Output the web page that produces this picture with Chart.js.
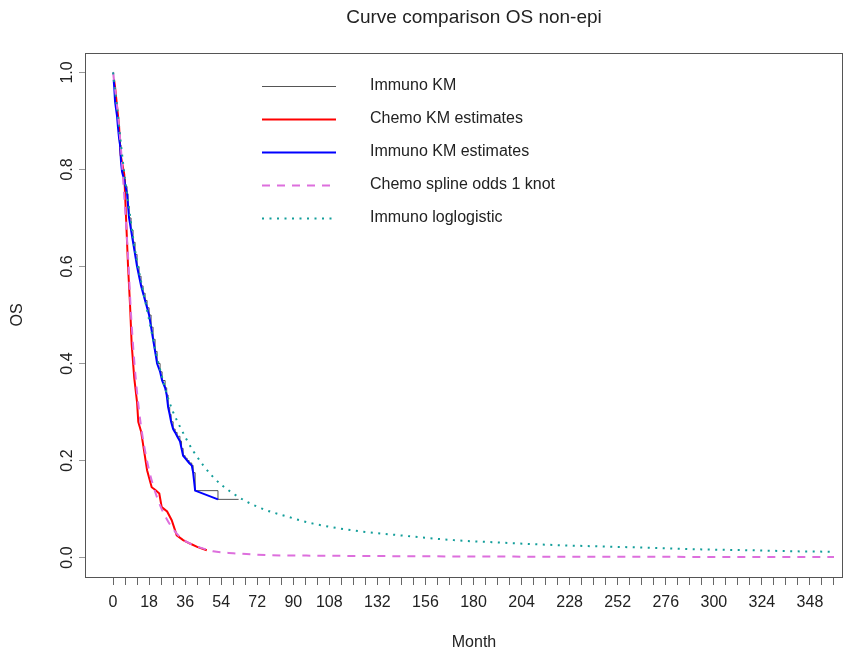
<!DOCTYPE html>
<html>
<head>
<meta charset="utf-8">
<script src="https://cdn.jsdelivr.net/npm/chart.js@4/dist/chart.umd.min.js"></script>
<style>
    html, body { margin: 0; padding: 0; background: #fff; }
    #wrap { width: 854px; height: 655px; }
</style>
</head>
<body>
<div id="wrap"><canvas id="osChart" width="854" height="655"></canvas></div>
<script>
/* ---------- data ---------- */

const chartTitle = 'Curve comparison OS non-epi';
const xTitle = 'Month';
const yTitle = 'OS';

const xTickMarks = [0, 6, 12, 18, 24, 30, 36, 42, 48, 54, 60, 66, 72, 78, 84, 90, 96, 102, 108, 114, 120,
    126, 132, 138, 144, 150, 156, 162, 168, 174, 180, 186, 192, 198, 204, 210, 216, 222, 228, 234, 240,
    246, 252, 258, 264, 270, 276, 282, 288, 294, 300, 306, 312, 318, 324, 330, 336, 342, 348, 354, 360];
const xTickLabels = [0, 18, 36, 54, 72, 90, 108, 132, 156, 180, 204, 228, 252, 276, 300, 324, 348];
const yTickValues = [0, 0.2, 0.4, 0.6, 0.8, 1.0];

const seriesLabels = ['Immuno KM', 'Chemo KM estimates', 'Immuno KM estimates',
    'Chemo spline odds 1 knot', 'Immuno loglogistic'];

// Immuno Kaplan-Meier (step)
const immunoKmMonths = [0, 0.3, 0.6, 1, 1.5, 2, 2.5, 3, 3.5, 4, 4.5, 5.5, 6.2, 7, 7.5, 8, 9, 10, 11, 12,
    13, 14, 15, 16, 17, 18, 19, 20, 21, 22, 23.5, 24.5, 26, 26.8, 27.5, 28.3, 29, 30, 31, 32, 33.4, 34.2,
    35, 36, 37, 38, 39.3, 40, 41, 52.4, 62.7];
const immunoKmSurv = [1.0, 0.985, 0.97, 0.94, 0.925, 0.91, 0.885, 0.865, 0.85, 0.815, 0.795, 0.78, 0.765,
    0.75, 0.725, 0.70, 0.675, 0.65, 0.625, 0.60, 0.58, 0.56, 0.545, 0.53, 0.515, 0.50, 0.475, 0.45, 0.425,
    0.40, 0.383, 0.365, 0.35, 0.335, 0.31, 0.295, 0.28, 0.265, 0.258, 0.25, 0.24, 0.225, 0.21, 0.205,
    0.20, 0.195, 0.19, 0.175, 0.138, 0.12, 0.12];

// Immuno KM estimates (joined points)
const immunoEstMonths = [0.3, 0.6, 1, 1.5, 2, 2.5, 3, 3.5, 4, 4.5, 5.5, 6.2, 7, 7.5, 8, 9, 10, 11, 12,
    13, 14, 15, 16, 17, 18, 19, 20, 21, 22, 23.5, 24.5, 26, 26.8, 27.5, 28.3, 29, 30, 31, 32, 33.4, 34.2,
    35, 36, 37, 38, 39.3, 40, 41, 52.4];
const immunoEstSurv = [0.985, 0.97, 0.94, 0.925, 0.91, 0.885, 0.865, 0.85, 0.815, 0.795, 0.78, 0.765,
    0.75, 0.725, 0.70, 0.675, 0.65, 0.625, 0.60, 0.58, 0.56, 0.545, 0.53, 0.515, 0.50, 0.475, 0.45, 0.425,
    0.40, 0.383, 0.365, 0.35, 0.335, 0.31, 0.295, 0.28, 0.265, 0.258, 0.25, 0.24, 0.225, 0.21, 0.205,
    0.20, 0.195, 0.19, 0.175, 0.138, 0.12];

// Chemo KM estimates
const chemoEstMonths = [0.5, 1, 2, 3, 3.8, 5.6, 6.8, 7.5, 8.5, 9.3, 10.6, 12, 12.6, 14, 15.5, 17, 19.3,
    21, 23.1, 24.3, 27, 29.3, 31.8, 35, 38.4, 42, 46.8];
const chemoEstSurv = [0.985, 0.97, 0.93, 0.89, 0.83, 0.79, 0.67, 0.60, 0.52, 0.44, 0.37, 0.32, 0.28,
    0.26, 0.22, 0.18, 0.145, 0.14, 0.132, 0.104, 0.095, 0.077, 0.046, 0.036, 0.029, 0.022, 0.015];

// Chemo spline odds 1 knot
const chemoSplineMonths = [0, 2, 4, 6, 7.5, 9, 10.5, 12, 14, 16, 18, 20, 22, 24.3, 27, 29.3, 33.5, 38,
    44, 50, 60, 78, 100, 140, 200, 280, 360];
const chemoSplineSurv = [1.0, 0.93, 0.84, 0.72, 0.62, 0.50, 0.41, 0.34, 0.27, 0.22, 0.18, 0.149, 0.124,
    0.10, 0.078, 0.063, 0.042, 0.030, 0.020, 0.013, 0.009, 0.005, 0.004, 0.003, 0.002, 0.0015, 0.001];

// Immuno loglogistic
const immunoLLMonths = [0, 2, 4, 6, 8, 10, 12, 15, 18, 21, 24, 27, 30, 33.4, 40, 50, 60, 72.5, 87.5,
    100, 120, 143, 170, 193, 220, 243, 270, 293, 320, 340, 360];
const immunoLLSurv = [1.0, 0.93, 0.85, 0.78, 0.72, 0.66, 0.61, 0.55, 0.49, 0.43, 0.38, 0.335, 0.30,
    0.27, 0.22, 0.166, 0.132, 0.104, 0.084, 0.07, 0.056, 0.046, 0.036, 0.031, 0.026, 0.023, 0.02,
    0.017, 0.015, 0.013, 0.012];

/* ---------- helpers ---------- */

function toPoints(xs, ys) {
    return xs.map((x, i) => ({ x: x, y: ys[i] }));
}

const FONT = "'Liberation Sans', Arial, Helvetica, sans-serif";
const TEXT = '#222';

/* ---------- plugins ---------- */

// box round the plot region, R style
const boxPlugin = {
    id: 'box',
    beforeDatasetsDraw(chart) {
        const a = chart.chartArea;
        const ctx = chart.ctx;
        ctx.save();
        ctx.strokeStyle = '#555';
        ctx.lineWidth = 1;
        ctx.strokeRect(Math.round(a.left) + 0.5, Math.round(a.top) + 0.5,
            Math.round(a.right - a.left), Math.round(a.bottom - a.top));
        ctx.restore();
    }
};

// main title and x label
const textPlugin = {
    id: 'texts',
    afterDraw(chart) {
        const ctx = chart.ctx;
        ctx.save();
        ctx.fillStyle = TEXT;
        ctx.textAlign = 'center';
        ctx.textBaseline = 'middle';
        ctx.font = '19px ' + FONT;
        ctx.fillText(chartTitle, 474, 18);
        ctx.font = '16px ' + FONT;
        ctx.fillText(xTitle, 474, 643);
        ctx.restore();
    }
};

// legend without a box, like base R legend(bty = "n")
const legendPlugin = {
    id: 'rLegend',
    afterDraw(chart) {
        const ctx = chart.ctx;
        ctx.save();
        chart.data.datasets.forEach((ds, i) => {
            const y = 86 + i * 33;
            ctx.beginPath();
            ctx.strokeStyle = ds.borderColor;
            ctx.lineWidth = ds.borderWidth;
            ctx.setLineDash(ds.borderDash || []);
            ctx.moveTo(262, y + 0.5);
            ctx.lineTo(336, y + 0.5);
            ctx.stroke();
            ctx.setLineDash([]);
            ctx.fillStyle = TEXT;
            ctx.font = '16px ' + FONT;
            ctx.textAlign = 'left';
            ctx.textBaseline = 'middle';
            ctx.fillText(ds.label, 370, y);
        });
        ctx.restore();
    }
};

/* ---------- chart ---------- */

const ctx = document.getElementById('osChart');

new Chart(ctx, {
    type: 'line',
    data: {
        datasets: [
            {
                label: seriesLabels[0],
                data: toPoints(immunoKmMonths, immunoKmSurv),
                borderColor: '#555',
                borderWidth: 1,
                stepped: 'before',
                order: 5
            },
            {
                label: seriesLabels[1],
                data: toPoints(chemoEstMonths, chemoEstSurv),
                borderColor: '#ff0000',
                borderWidth: 2,
                order: 4
            },
            {
                label: seriesLabels[2],
                data: toPoints(immunoEstMonths, immunoEstSurv),
                borderColor: '#0000ff',
                borderWidth: 2,
                order: 3
            },
            {
                label: seriesLabels[3],
                data: toPoints(chemoSplineMonths, chemoSplineSurv),
                borderColor: '#dd6fdd',
                borderWidth: 2,
                borderDash: [8, 7],
                cubicInterpolationMode: 'monotone',
                order: 2
            },
            {
                label: seriesLabels[4],
                data: toPoints(immunoLLMonths, immunoLLSurv),
                borderColor: '#139e9a',
                borderWidth: 2,
                borderDash: [2, 5.5],
                cubicInterpolationMode: 'monotone',
                order: 1
            }
        ]
    },
    options: {
        responsive: false,
        animation: false,
        events: [],
        layout: { padding: { top: 53, right: 12, left: 0, bottom: 0 } },
        elements: { point: { radius: 0 }, line: { tension: 0, fill: false } },
        plugins: {
            legend: { display: false },
            title: { display: false },
            tooltip: { enabled: false }
        },
        scales: {
            x: {
                type: 'linear',
                min: -14,
                max: 364,
                afterBuildTicks: (scale) => {
                    scale.ticks = xTickMarks.map(v => ({ value: v }));
                },
                afterFit: (scale) => { scale.height = 78; },
                border: { display: false },
                grid: {
                    drawOnChartArea: false,
                    drawTicks: true,
                    tickLength: 8,
                    tickColor: '#666'
                },
                ticks: {
                    autoSkip: false,
                    maxRotation: 0,
                    minRotation: 0,
                    padding: 8,
                    color: TEXT,
                    font: { family: FONT, size: 16 },
                    callback: (v) => xTickLabels.includes(v) ? String(v) : ''
                }
            },
            y: {
                type: 'linear',
                min: -0.04,
                max: 1.04,
                afterBuildTicks: (scale) => {
                    scale.ticks = yTickValues.map(v => ({ value: v }));
                },
                afterFit: (scale) => { scale.width = 85; },
                border: { display: false },
                grid: {
                    drawOnChartArea: false,
                    drawTicks: true,
                    tickLength: 6,
                    tickColor: '#999'
                },
                ticks: {
                    autoSkip: false,
                    minRotation: 90,
                    maxRotation: 90,
                    crossAlign: 'center',
                    padding: 0,
                    color: TEXT,
                    font: { family: FONT, size: 16 },
                    callback: (v) => v.toFixed(1)
                },
                title: {
                    display: true,
                    text: yTitle,
                    color: TEXT,
                    font: { family: FONT, size: 16 },
                    padding: { top: 8, bottom: 0 }
                }
            }
        }
    },
    plugins: [boxPlugin, textPlugin, legendPlugin]
});
</script>
</body>
</html>
